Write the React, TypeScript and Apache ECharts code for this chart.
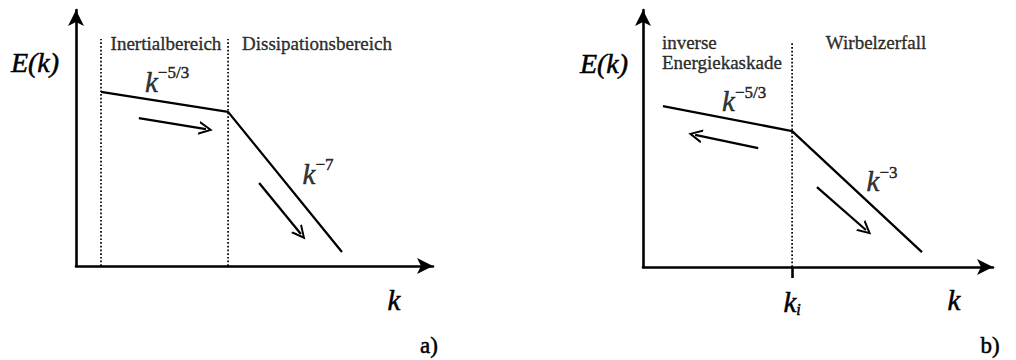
import React, { useEffect, useRef } from "react";
import * as echarts from "echarts";

// Schematic energy spectra E(k): a) 3D cascade, b) 2D inverse cascade.
// Both panels use a normalised 0..100 coordinate range on each axis.

const AXIS_RANGE = [0, 100];

// Panel a) – inertial range followed by dissipation range
const spectrumA: [number, number][] = [[7, 68], [42.6, 60.2], [74.5, 5.5]];
const dividersA: number[] = [7, 42.6];
const dividerTopA = 88.7;
const arrowsA: [number, number][][] = [
  [[17.6, 57.8], [36.4, 53.5]],
  [[51.3, 32.4], [63, 12.5]],
];
const regionLabelsA = [
  { text: "Inertialbereich", x: 25.2, y: 87 },
  { text: "Dissipationsbereich", x: 67.5, y: 87 },
];
const slopeLabelsA = [
  { exp: "−5/3", x: 25.5, y: 72.6 },
  { exp: "−7", x: 67.8, y: 36.7 },
];

// Panel b) – inverse energy cascade and vortex decay, split at k_i
const spectrumB: [number, number][] = [[5.7, 62.6], [42.6, 52.9], [79.7, 5.8]];
const kiB = 42.6;
const dividerTopB = 87.5;
const arrowsB: [number, number][][] = [
  [[32.9, 46.3], [14.9, 51.4]],
  [[49.7, 31.1], [63.7, 14.4]],
];
const regionLabelsB = [
  { text: "inverse\nEnergiekaskade", x: 5.4, y: 83.6, align: "left" },
  { text: "Wirbelzerfall", x: 66.6, y: 87.5, align: "center" },
];
const slopeLabelsB = [
  { exp: "−5/3", x: 28.9, y: 65 },
  { exp: "−3", x: 68.3, y: 33.9 },
];

const SERIF = "Liberation Serif";
const INK = "#000";
// open chevron head for the cascade arrows (tip at the top of the path)
const CHEVRON = "path://M5,0 L10,13 L8.4,13 L5,4 L1.6,13 L0,13 Z";
// slight outline so the glyphs read as heavy as the printed ones
const HEAVY = { textBorderColor: INK, textBorderWidth: 0.5 };

const slopeRich = {
  k: { fontFamily: SERIF, fontStyle: "italic", fontSize: 29, lineHeight: 32, color: INK, verticalAlign: "bottom", ...HEAVY },
  s: { fontFamily: SERIF, fontSize: 17, lineHeight: 18, color: INK, verticalAlign: "top", ...HEAVY },
};

function axisPair(idx: number) {
  const x = {
    type: "value",
    gridIndex: idx,
    min: AXIS_RANGE[0],
    max: AXIS_RANGE[1],
    axisLine: { show: true, lineStyle: { color: INK, width: 2.6 }, symbol: ["none", "arrow"], symbolSize: [12, 16] },
    axisTick: { show: false },
    axisLabel: { show: false },
    splitLine: { show: false },
  } as any;
  const y = {
    type: "value",
    gridIndex: idx,
    min: AXIS_RANGE[0],
    max: AXIS_RANGE[1],
    axisLine: { show: true, onZero: false, lineStyle: { color: INK, width: 2.6 }, symbol: ["none", "arrow"], symbolSize: [12, 16] },
    axisTick: { show: false },
    axisLabel: { show: false },
    splitLine: { show: false },
  } as any;
  return { x, y };
}

function panelSeries(
  idx: number,
  spectrum: [number, number][],
  dividers: number[],
  dividerTop: number,
  arrows: [number, number][][],
  regionLabels: { text: string; x: number; y: number; align?: string }[],
  slopeLabels: { exp: string; x: number; y: number }[]
) {
  const out: any[] = [];
  dividers.forEach((d) => {
    out.push({
      type: "line",
      xAxisIndex: idx,
      yAxisIndex: idx,
      data: [[d, 0], [d, dividerTop]],
      showSymbol: false,
      silent: true,
      lineStyle: { color: INK, width: 1.7, type: [1.7, 2] },
    });
  });
  out.push({
    type: "line",
    xAxisIndex: idx,
    yAxisIndex: idx,
    data: spectrum,
    showSymbol: false,
    silent: true,
    lineStyle: { color: INK, width: 2.3 },
  });
  out.push({
    type: "lines",
    coordinateSystem: "cartesian2d",
    xAxisIndex: idx,
    yAxisIndex: idx,
    silent: true,
    symbol: ["none", CHEVRON],
    symbolSize: [11, 14],
    lineStyle: { color: INK, width: 2.3, opacity: 1 },
    itemStyle: { color: INK },
    data: arrows.map((c) => ({ coords: c })),
  });
  out.push({
    type: "scatter",
    xAxisIndex: idx,
    yAxisIndex: idx,
    symbolSize: 0,
    silent: true,
    data: regionLabels.map((l) => ({
      value: [l.x, l.y],
      label: {
        show: true,
        position: "inside",
        formatter: l.text,
        align: l.align || "center",
        verticalAlign: "middle",
        fontFamily: SERIF,
        fontSize: 19,
        lineHeight: 20,
        color: INK,
        textBorderColor: INK,
        textBorderWidth: 0.4,
      },
    })),
  });
  out.push({
    type: "scatter",
    xAxisIndex: idx,
    yAxisIndex: idx,
    symbolSize: 0,
    silent: true,
    data: slopeLabels.map((l) => ({
      value: [l.x, l.y],
      label: {
        show: true,
        position: "inside",
        formatter: `{k|k}{s|${l.exp}}`,
        align: "center",
        verticalAlign: "middle",
        rich: slopeRich,
      },
    })),
  });
  return out;
}

export default function App() {
  const ref = useRef<HTMLDivElement>(null);

  useEffect(() => {
    document.body.style.margin = "0";
    document.body.style.overflow = "hidden";
    const chart = echarts.init(ref.current!, undefined, { renderer: "svg" });

    const a = axisPair(0);
    const b = axisPair(1);
    // k_i marker on the horizontal axis of panel b)
    b.x.axisTick = { show: true, inside: false, length: 11, customValues: [kiB], lineStyle: { color: INK, width: 2.6 } };
    b.x.axisLabel = {
      show: true,
      customValues: [kiB],
      margin: 20,
      formatter: () => "{k|k}{i|i}",
      rich: {
        k: { fontFamily: SERIF, fontStyle: "italic", fontSize: 29, lineHeight: 30, color: INK, verticalAlign: "top", ...HEAVY },
        i: { fontFamily: SERIF, fontStyle: "italic", fontSize: 16, lineHeight: 40, color: INK, verticalAlign: "top", padding: [14, 0, 0, 0], ...HEAVY },
      },
    };

    const axisText = (text: string, x: number, y: number, italic: boolean, size: number) => ({
      type: "text",
      x,
      y,
      silent: true,
      style: {
        text,
        fill: INK,
        stroke: INK,
        lineWidth: 0.5,
        fontFamily: SERIF,
        fontStyle: italic ? "italic" : "normal",
        fontSize: size,
        align: "center",
        verticalAlign: "middle",
      },
    });

    chart.setOption({
      animation: false,
      backgroundColor: "#fff",
      grid: [
        { left: 76, top: 10, width: 357, height: 256 },
        { left: 643, top: 10, width: 350, height: 257 },
      ],
      xAxis: [a.x, b.x],
      yAxis: [a.y, b.y],
      series: [
        ...panelSeries(0, spectrumA, dividersA, dividerTopA, arrowsA, regionLabelsA, slopeLabelsA),
        ...panelSeries(1, spectrumB, [kiB], dividerTopB, arrowsB, regionLabelsB, slopeLabelsB),
      ],
      graphic: [
        axisText("E(k)", 35, 62, true, 28),
        axisText("k", 394, 300, true, 29),
        axisText("a)", 429, 345, false, 23),
        axisText("E(k)", 604, 63, true, 28),
        axisText("k", 954, 300, true, 29),
        axisText("b)", 990, 345, false, 23),
      ],
    });

    return () => chart.dispose();
  }, []);

  return <div ref={ref} style={{ width: 1016, height: 360 }} />;
}
